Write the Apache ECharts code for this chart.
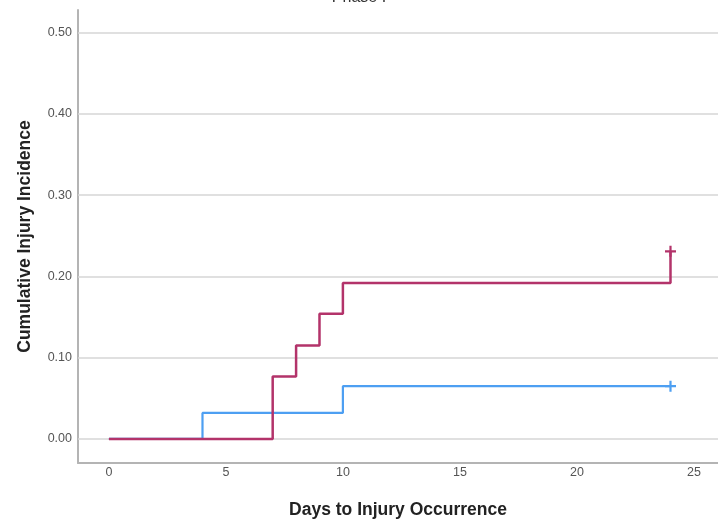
<!DOCTYPE html>
<html>
<head>
<meta charset="utf-8">
<script src="https://cdn.jsdelivr.net/npm/echarts@6/dist/echarts.min.js"></script>
<style>html,body{margin:0;padding:0;background:#fff}#c{width:718px;height:520px}</style>
</head>
<body>
<div id="c"></div>
<script>
var xTicks = [0, 5, 10, 15, 20, 25];
var yTicks = [0, 0.1, 0.2, 0.3, 0.4, 0.5];
var redTimes = [0, 7, 8, 9, 10, 24, 24];
var redValues = [0, 0.077, 0.115, 0.154, 0.192, 0.192, 0.231];
var blueTimes = [0, 4, 10, 24];
var blueValues = [0, 0.032, 0.065, 0.065];
var redCensor = [[24, 0.231]];
var blueCensor = [[24, 0.065]];

var RED = '#b3336a', BLUE = '#4d9ff2';
function pairs(t, v) { return t.map(function (x, i) { return [x, v[i]]; }); }
var plus = 'path://M4,0h2v4h4v2h-4v4h-2v-4h-4v-2h4z';

var chart = echarts.init(document.getElementById('c'));
chart.setOption({
  animation: false,
  title: { text: 'Phase I', left: 'center', top: -15, textStyle: { fontSize: 16, fontWeight: 'normal', color: '#333', fontFamily: 'Liberation Sans' } },
  grid: { left: 78, right: 0, top: 10, bottom: 57, containLabel: false, outerBoundsMode: 'none' },
  xAxis: {
    type: 'value', min: -1.32, max: 26.03,
    name: 'Days to Injury Occurrence', nameLocation: 'middle', nameGap: 38,
    nameTextStyle: { fontSize: 17.5, fontWeight: 'bold', color: '#222', fontFamily: 'Liberation Sans' },
    axisLine: { show: true, onZero: false, lineStyle: { color: '#b4b4b4', width: 2 } },
    axisTick: { show: false },
    splitLine: { show: false },
    axisLabel: { customValues: xTicks, color: '#555', fontSize: 12.5, margin: 3, fontFamily: 'Liberation Sans' }
  },
  yAxis: {
    type: 'value', min: -0.0296, max: 0.528,
    name: 'Cumulative Injury Incidence', nameLocation: 'middle', nameGap: 44,
    nameTextStyle: { fontSize: 17.5, fontWeight: 'bold', color: '#222', fontFamily: 'Liberation Sans' },
    axisLine: { show: true, onZero: false, lineStyle: { color: '#b4b4b4', width: 2 } },
    axisTick: { show: false },
    splitLine: { show: false },
    axisLabel: { customValues: yTicks, color: '#555', fontSize: 12.5, margin: 6, fontFamily: 'Liberation Sans',
      formatter: function (v) { return v.toFixed(2); } }
  },
  series: [
    {
      type: 'line', data: [], silent: true, z: 1,
      markLine: { z: 1, symbol: 'none', silent: true, label: { show: false },
        lineStyle: { color: '#d6d6d6', width: 1.5, type: 'solid' },
        data: yTicks.map(function (v) { return { yAxis: v }; }) }
    },
    { type: 'line', step: 'end', data: pairs(blueTimes, blueValues), showSymbol: false,
      lineStyle: { color: BLUE, width: 2.2 }, z: 3 },
    { type: 'line', step: 'end', data: pairs(redTimes, redValues), showSymbol: false,
      lineStyle: { color: RED, width: 2.5 }, z: 4 },
    { type: 'scatter', data: redCensor, symbol: plus, symbolSize: 11, itemStyle: { color: RED, opacity: 1 }, z: 5 },
    { type: 'scatter', data: blueCensor, symbol: plus, symbolSize: 11, itemStyle: { color: BLUE, opacity: 1 }, z: 5 }
  ]
});
</script>
</body>
</html>
